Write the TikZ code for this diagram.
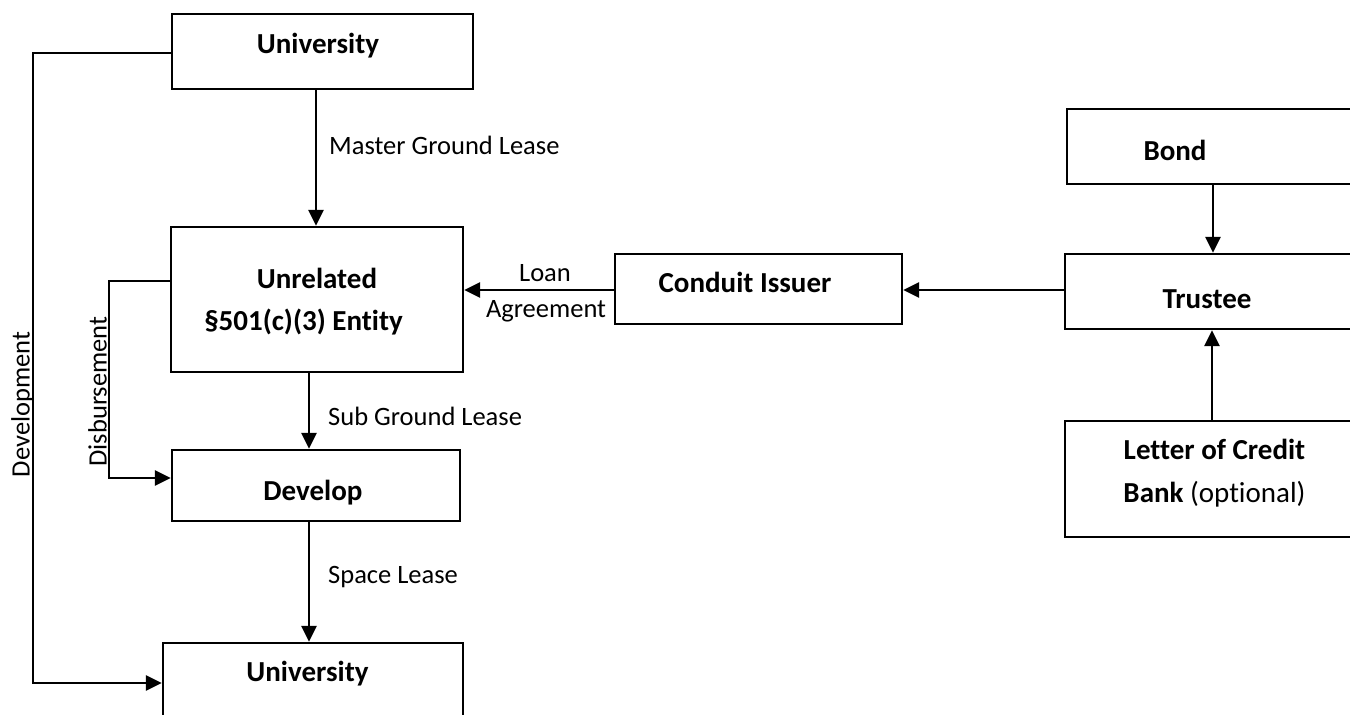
\documentclass[tikz,border=0pt]{standalone}
\usepackage{fontspec}
\setmainfont{Carlito}[Ligatures=NoCommon]
\usetikzlibrary{arrows.meta}
\begin{document}
\begin{tikzpicture}[x=1pt,y=-1pt,
  box/.style={draw=black, line width=2.3pt, rectangle, inner sep=0pt},
  arr/.style={line width=2.6pt, -{Triangle[length=16pt,width=15pt]}},
  btext/.style={anchor=base, inner sep=0pt, font=\fontsize{29}{35}\selectfont\bfseries},
  ltext/.style={anchor=base, inner sep=0pt, font=\fontsize{26.5}{32}\selectfont},
  lwest/.style={anchor=base west, inner sep=0pt, font=\fontsize{26.5}{32}\selectfont}]
\useasboundingbox (0,0) rectangle (1350,715);
\clip (0,0) rectangle (1350,715);
\fill[white] (0,0) rectangle (1350,715);

% boxes
\node[box, minimum width=301pt, minimum height=75pt] (U1) at (322.5,51.5) {};
\node[box, minimum width=292pt, minimum height=145pt] (UE) at (317,299.5) {};
\node[box, minimum width=288pt, minimum height=71pt] (DV) at (316,485.5) {};
\node[box, minimum width=300pt, minimum height=82pt] (U2) at (313,684) {};
\node[box, minimum width=287pt, minimum height=70pt] (CI) at (758.5,289) {};
\node[box, minimum width=293pt, minimum height=75pt] (BD) at (1213.5,146.5) {};
\node[box, minimum width=295pt, minimum height=75pt] (TR) at (1212.5,291.5) {};
\node[box, minimum width=295pt, minimum height=116pt] (LC) at (1212.5,479) {};

% box texts
\node[btext] (tU1) at (318,53) {University};
\node[btext] (tUE1) at (317,288) {Unrelated};
\node[btext] (tUE2) at (303.5,330) {§501(c)(3) Entity};
\node[btext] (tDV) at (313,500) {Develop};
\node[btext] (tU2) at (307.5,681) {University};
\node[btext] (tCI) at (745,292) {Conduit Issuer};
\node[btext] (tBD) at (1175,160) {Bond};
\node[btext] (tTR) at (1207,308) {Trustee};
\node[btext] (tLC1) at (1214.5,459) {Letter of Credit};
\node[btext] (tLC2) at (1214.5,502) {Bank \mdseries(optional)};

% connectors
\draw[arr] (316,0 |- U1.south) -- (316,0 |- UE.north);
\draw[arr] (309,0 |- UE.south) -- (309,0 |- DV.north);
\draw[arr] (309,0 |- DV.south) -- (309,0 |- U2.north);
\draw[arr] (U1.west |- 0,53) -- (33,53) -- (33,683) -- (U2.west |- 0,683);
\draw[arr] (UE.west |- 0,281) -- (109,281) -- (109,478) -- (DV.west |- 0,478);
\draw[arr] (CI.west |- 0,290) -- (UE.east |- 0,290);
\draw[arr] (TR.west |- 0,290) -- (CI.east |- 0,290);
\draw[arr] (1213,0 |- BD.south) -- (1213,0 |- TR.north);
\draw[arr] (1212,0 |- LC.north) -- (1212,0 |- TR.south);

% labels
\node[lwest] (lMGL) at (329,154) {Master Ground Lease};
\node[lwest] (lSGL) at (328,425) {Sub Ground Lease};
\node[lwest] (lSL) at (328,583) {Space Lease};
\node[ltext] (lLoan) at (545,281) {Loan};
\node[ltext] (lAgr) at (546,317) {Agreement};
\node[ltext, rotate=90] (lDev) at (29.5,404.5) {Development};
\node[ltext, rotate=90] (lDis) at (106.5,391.5) {Disbursement};
\end{tikzpicture}
\end{document}
